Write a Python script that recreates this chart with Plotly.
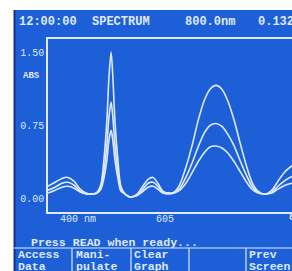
import plotly.graph_objects as go

# Wavelength (nm) sample points
wavelength = [329, 346, 362, 376, 391, 405, 419, 433, 445, 454, 461, 468, 473, 478,
              482, 487, 494, 501, 511, 522, 537, 551, 565, 577, 588, 600, 612, 626,
              640, 654, 669, 683, 697, 711, 725, 739, 753, 768, 782, 796, 810, 824,
              841, 857, 871, 888, 904]
# Absorbance of three traces
abs_high = [0.13, 0.17, 0.21, 0.22, 0.18, 0.10, 0.06, 0.05, 0.07, 0.15, 0.40, 0.80, 1.25, 1.50,
            1.25, 0.80, 0.40, 0.13, 0.05, 0.02, 0.04, 0.12, 0.20, 0.22, 0.16, 0.08, 0.06, 0.07,
            0.15, 0.32, 0.55, 0.80, 1.00, 1.12, 1.16, 1.12, 1.00, 0.80, 0.57, 0.35, 0.17, 0.08,
            0.05, 0.09, 0.18, 0.28, 0.34]
abs_mid = [0.09, 0.12, 0.16, 0.17, 0.14, 0.08, 0.055, 0.05, 0.06, 0.12, 0.28, 0.55, 0.84, 0.99,
           0.84, 0.55, 0.28, 0.10, 0.05, 0.02, 0.04, 0.09, 0.16, 0.17, 0.13, 0.07, 0.06, 0.06,
           0.11, 0.22, 0.37, 0.53, 0.67, 0.75, 0.77, 0.74, 0.66, 0.54, 0.39, 0.25, 0.13, 0.07,
           0.05, 0.07, 0.13, 0.19, 0.23]
abs_low = [0.06, 0.09, 0.12, 0.13, 0.11, 0.07, 0.05, 0.05, 0.06, 0.10, 0.21, 0.40, 0.60, 0.70,
           0.60, 0.40, 0.21, 0.08, 0.05, 0.02, 0.03, 0.07, 0.12, 0.13, 0.10, 0.06, 0.05, 0.06,
           0.09, 0.16, 0.27, 0.38, 0.47, 0.53, 0.54, 0.52, 0.47, 0.38, 0.28, 0.18, 0.10, 0.06,
           0.05, 0.06, 0.10, 0.14, 0.16]

y_ticks = [0.0, 0.75, 1.5]
y_tick_labels = ["0.00", "0.75", "1.50"]
x_ticks = [400, 605]
x_tick_labels = ["400 nm", "605"]

header = [("12:00:00", 17), ("SPECTRUM", 90), ("800.0nm", 183), ("0.1324", 256)]
buttons = [("Access", "Data", 17), ("Mani-", "pulate", 75), ("Clear", "Graph", 133), ("Prev", "Screen", 248)]
separators = [72, 131, 189, 246]

W, H = 292, 271
BG = "#1c5fd6"
FG = "#dfeaff"
FONT = dict(family="Liberation Mono, DejaVu Sans Mono, monospace", size=12, color=FG)


def px(x):
    return x / W


def py(y):
    return 1 - y / H


fig = go.Figure()
for vals in (abs_high, abs_mid, abs_low):
    fig.add_trace(go.Scatter(x=wavelength, y=vals, mode="lines",
                             line=dict(color=FG, width=1.6, shape="spline", smoothing=0.8),
                             showlegend=False, hoverinfo="skip"))

shapes = [
    dict(type="rect", xref="paper", yref="paper", x0=px(14), x1=1.05, y0=-0.05, y1=py(10),
         fillcolor=BG, line=dict(width=0), layer="below"),
    dict(type="line", xref="paper", yref="paper", x0=px(14.5), x1=px(14.5), y0=-0.05, y1=py(10),
         line=dict(color="#1a2c8c", width=2)),
    dict(type="line", xref="paper", yref="paper", x0=px(14), x1=1.05, y0=py(248), y1=py(248),
         line=dict(color=FG, width=1.2)),
]
for s in separators:
    shapes.append(dict(type="line", xref="paper", yref="paper", x0=px(s), x1=px(s),
                       y0=-0.05, y1=py(248), line=dict(color=FG, width=1.2)))

annotations = []
for txt, x in header:
    annotations.append(dict(text="<b>" + txt + "</b>", xref="paper", yref="paper", x=px(x), y=py(22),
                            xanchor="left", yanchor="middle", showarrow=False, font=FONT))
annotations.append(dict(text="<b>ABS</b>", xref="paper", yref="paper", x=px(42), y=py(76),
                        xanchor="right", yanchor="middle", showarrow=False,
                        font=dict(FONT, size=9)))
annotations.append(dict(text="<b>80</b>", xref="paper", yref="paper", x=px(287), y=py(217),
                        xanchor="left", yanchor="middle", showarrow=False,
                        font=dict(FONT, size=10)))
annotations.append(dict(text="<b>Press READ when ready...</b>", xref="paper", yref="paper",
                        x=px(29), y=py(242), xanchor="left", yanchor="middle", showarrow=False,
                        font=dict(FONT, size=11.6)))
for top, bottom, x in buttons:
    for txt, yy in ((top, 254.5), (bottom, 266.5)):
        annotations.append(dict(text="<b>" + txt + "</b>", xref="paper", yref="paper", x=px(x), y=py(yy),
                                xanchor="left", yanchor="middle", showarrow=False,
                                font=dict(FONT, size=11.5), borderpad=0))

fig.update_layout(
    width=W, height=H,
    margin=dict(l=0, r=0, t=0, b=0),
    paper_bgcolor="white",
    plot_bgcolor=BG,
    shapes=shapes,
    annotations=annotations,
    xaxis=dict(domain=[px(48), 1], range=[329.3, 329.3 + (W - 48) * 2.356],
               showgrid=False, zeroline=False,
               showline=True, mirror=True, linecolor=FG, linewidth=1.5,
               tickvals=x_ticks, ticktext=x_tick_labels, ticks="",
               ticklabelstandoff=-4,
               tickfont=dict(FONT, size=10)),
    yaxis=dict(domain=[py(212), py(39)], range=[-0.133, 1.633], showgrid=False, zeroline=False,
               showline=True, linecolor=FG, linewidth=1.5,
               tickvals=y_ticks, ticktext=y_tick_labels, ticks="",
               tickfont=dict(FONT, size=10)),
)

fig.write_html(
    "out.html",
    config={"displayModeBar": False},
    post_script="document.body.style.margin='0';document.body.style.overflow='hidden';",
)
